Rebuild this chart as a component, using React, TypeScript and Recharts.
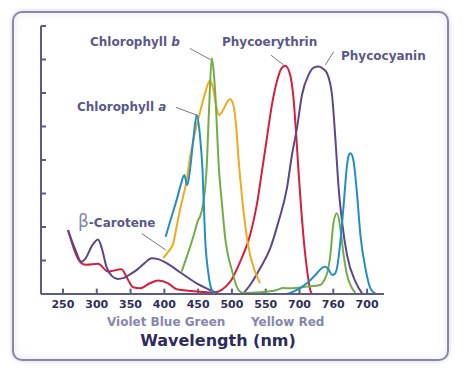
// Absorption spectra of photosynthetic pigments (Recharts).
// Axis ticks point inward, leader lines tie each label to its peak.
import { LineChart, Line, XAxis, YAxis, ReferenceLine } from "recharts";

type Pt = [number, number | null];

const TICK_VALUES = [250, 300, 350, 400, 450, 500, 550, 600, 650, 700];
const TICK_LABELS = ["250", "300", "350", "400", "450", "500", "550", "700", "760", "700"];
const Y_TICKS = [0, 1, 2, 3, 4, 5, 6, 7, 8];
const X_MIN = 217.5;
const X_MAX = 725;

// [wavelength, absorbance]; null breaks the line
const phycoerythrin: Pt[] = [
  [257.4, 1.91], [277.3, 0.92], [284.7, 0.87], [301.9, 0.9], [316.7, 0.67], [336.6, 0.74],
  [346.4, 0.42], [353.8, 0.2], [363.8, 0.17], [378.6, 0.32], [390.9, 0.4], [405.7, 0.32],
  [418.2, 0.14], [452.8, 0.07], [472.5, 0.04], [497.2, 0.36], [512.1, 0.96], [526.9, 1.76],
  [536.8, 2.66], [544.3, 3.65], [551.7, 4.65], [559.1, 5.64], [566.5, 6.34], [572.9, 6.72],
  [578.8, 6.81], [586.2, 6.54], [591.1, 5.84], [595.1, 4.75], [598.9, 3.55], [602.6, 2.51],
  [607.0, 1.46], [611.5, 0.66], [615.9, 0.12], [618.1, 0],
];

const phycocyanin: Pt[] = [
  [257.4, 1.91], [267.4, 1.37], [277.3, 0.96], [283.7, 1.07], [292.6, 1.43], [301.9, 1.63],
  [307.4, 1.37], [314.4, 0.81], [322.2, 0.54], [331.1, 0.45], [340.0, 0.48], [350.4, 0.6],
  [359.3, 0.72], [371.2, 0.93], [381.1, 1.07], [390.5, 1.04], [403.4, 0.92], [423.1, 0.65],
  [447.9, 0.32], [467.6, 0.12], [479.5, 0.01], [500, null],
  [517.0, 0.02], [526.9, 0.27], [541.7, 0.77], [556.6, 1.36], [568.9, 2.16], [581.4, 3.16],
  [588.8, 4.15], [596.2, 4.95], [603.6, 5.94], [613.4, 6.54], [620.4, 6.75], [628.2, 6.79],
  [635.2, 6.72], [640.7, 6.59], [648.1, 5.94], [653.0, 4.65], [657.9, 3.16], [662.9, 2.16],
  [670.3, 1.16], [682.7, 0.37], [692.6, 0.02],
];

const betaCarotene: Pt[] = [
  [398.3, 1.07], [405.3, 1.25], [413.2, 1.51], [418.6, 2.06], [423.1, 2.51], [433.0, 3.4],
  [437.9, 4.06], [445.3, 4.81], [452.8, 5.43], [460.2, 5.99], [467.6, 6.37], [472.0, 6.15],
  [476.5, 5.64], [480.9, 5.34], [486.9, 5.49], [492.8, 5.73], [497.2, 5.81], [501.7, 5.67],
  [506.1, 5.04], [509.9, 4.0], [514.6, 2.96], [523.9, 1.46], [534.3, 0.66], [541.7, 0.33],
];

const chlorophyllB: Pt[] = [
  [425.6, 0.67], [433.5, 1.13], [442.8, 1.71], [450.2, 2.21], [452.8, 2.31], [457.6, 2.71],
  [462.4, 3.7], [466.1, 5.49], [470.1, 7.04], [472.8, 6.69], [475.0, 6.09], [480.9, 3.7],
  [485.4, 2.66], [489.8, 1.71], [499.8, 0.72], [509.6, 0.12], [516.5, 0.03], [541.7, 0.05],
  [566.5, 0.12], [575.9, 0.18], [586.2, 0.17], [611.0, 0.22], [630.7, 0.27], [638.2, 0.48],
  [641.6, 0.67], [645.6, 1.16], [650.5, 2.16], [655.5, 2.41], [660.4, 1.96], [665.3, 1.16],
  [670.3, 0.57], [677.8, 0.17], [682.7, 0.03],
];

const chlorophyllA: Pt[] = [
  [401.9, 1.71], [408.3, 2.15], [418.2, 2.81], [424.6, 3.28], [429.5, 3.55], [433.9, 3.25],
  [437.9, 3.7], [442.8, 4.6], [447.9, 5.34], [452.8, 4.7], [456.5, 3.7], [460.2, 1.71],
  [465.1, 0.62], [470.1, 0.12], [475.0, 0.01], [530, null],
  [581.4, 0], [591.1, 0.07], [611.0, 0.32], [625.8, 0.62], [632.2, 0.76], [638.2, 0.81],
  [643.3, 0.72], [648.1, 0.57], [652.2, 0.6], [655.5, 0.78], [660.4, 1.56], [665.3, 2.66],
  [670.3, 3.85], [673.0, 4.15], [675.2, 4.2], [678.2, 4.12], [680.1, 3.95], [685.2, 2.96],
  [690.1, 1.76], [697.5, 0.77], [704.9, 0.17], [712.3, 0.01],
];

// leader lines: [x1, y1, x2, y2] in data units
const leaders: [number, number, number, number][] = [
  [437.9, 7.33, 468.6, 6.99], // Chlorophyll b
  [557.6, 7.13, 576.3, 6.84], // Phycoerythrin
  [650.5, 7.23, 638.2, 6.84], // Phycocyanin
  [417.2, 5.57, 447.9, 5.34], // Chlorophyll a
  [366.3, 1.81, 402.3, 1.31], // β-Carotene
];

const toRows = (pts: Pt[]) => pts.map(([w, a]) => ({ w, a }));

const FONT = '"DejaVu Sans", Verdana, sans-serif';
const AXIS = "#5b5a88";
const LABEL = "#5a5989";
// inward tick length, in data units (~5px each way)
const X_TICK_LEN = 0.16;
const Y_TICK_LEN = 7.4;

const series = [
  { name: "Phycoerythrin", pts: phycoerythrin, color: "#d61f3c" },
  { name: "Phycocyanin", pts: phycocyanin, color: "#5e4786" },
  { name: "β-Carotene", pts: betaCarotene, color: "#f1aa1e" },
  { name: "Chlorophyll b", pts: chlorophyllB, color: "#72ad45" },
  { name: "Chlorophyll a", pts: chlorophyllA, color: "#218fc6" },
];

function XTick({ x, y, index }: any) {
  return (
    <text
      x={x} y={y} textAnchor="middle" fontSize={11} fontWeight="bold"
      fill="#2f2e58" fontFamily={FONT}
    >
      {TICK_LABELS[index]}
    </text>
  );
}

function Label({ x, y, children, size = 12, color = LABEL }: any) {
  return (
    <div
      style={{
        position: "absolute", left: x, top: y - size / 2, lineHeight: `${size}px`,
        fontSize: size, fontWeight: "bold", color, whiteSpace: "nowrap",
      }}
    >
      {children}
    </div>
  );
}

export default function App() {
  return (
    <div
      style={{
        position: "absolute", left: 0, top: 0, width: 465, height: 376,
        background: "#fff", fontFamily: FONT, overflow: "hidden",
      }}
    >
      <div
        style={{
          position: "absolute", left: 12, top: 11, width: 437, height: 350, boxSizing: "border-box",
          border: "2px solid #8887a8", borderRadius: 10,
          boxShadow: "0 0 4px rgba(110,110,150,0.35), inset 0 0 8px rgba(160,160,210,0.25)",
        }}
      />
      <div style={{ position: "absolute", left: 0, top: 0 }}>
        <LineChart width={465} height={376} margin={{ top: 26, right: 81, bottom: 52, left: 40 }}>
          <XAxis
            dataKey="w"
            type="number"
            domain={[X_MIN, X_MAX]}
            ticks={TICK_VALUES}
            interval={0}
            allowDataOverflow
            height={30}
            tickLine={false}
            tickSize={0}
            tickMargin={14}
            tick={<XTick />}
            stroke={AXIS}
            strokeWidth={2}
          />
          <YAxis
            type="number"
            domain={[0, 8]}
            ticks={Y_TICKS}
            interval={0}
            width={1}
            tickLine={false}
            tick={false}
            stroke={AXIS}
            strokeWidth={2}
          />
          {TICK_VALUES.map((v) => (
            <ReferenceLine
              key={`xt${v}`}
              segment={[{ x: v, y: 0 }, { x: v, y: X_TICK_LEN }]}
              stroke={AXIS}
              strokeWidth={2}
            />
          ))}
          {Y_TICKS.map((t) => (
            <ReferenceLine
              key={`yt${t}`}
              segment={[{ x: X_MIN, y: t }, { x: X_MIN + Y_TICK_LEN, y: t }]}
              stroke={AXIS}
              strokeWidth={2}
            />
          ))}
          {leaders.map(([x1, y1, x2, y2], i) => (
            <ReferenceLine
              key={i}
              segment={[{ x: x1, y: y1 }, { x: x2, y: y2 }]}
              stroke="#777"
              strokeWidth={1}
            />
          ))}
          {series.map((s) => (
            <Line
              key={s.name}
              name={s.name}
              data={toRows(s.pts)}
              dataKey="a"
              type="monotone"
              stroke={s.color}
              strokeWidth={2}
              dot={false}
              isAnimationActive={false}
            />
          ))}
        </LineChart>
      </div>

      <Label x={90} y={42}>Chlorophyll <i>b</i></Label>
      <Label x={222} y={42}>Phycoerythrin</Label>
      <Label x={341} y={56}>Phycocyanin</Label>
      <Label x={77} y={107}>Chlorophyll <i>a</i></Label>
      <Label x={78} y={221}>
        <span style={{ fontSize: 17, fontWeight: "normal", color: "#8583b6" }}>β</span>-Carotene
      </Label>

      <Label x={107} y={322} color="#8786ae">Violet Blue Green</Label>
      <Label x={251} y={322} color="#8786ae">Yellow Red</Label>
      <div
        style={{
          position: "absolute", left: 0, width: 436, top: 331, textAlign: "center",
          fontSize: 16, fontWeight: "bold", color: "#2e2c5b", lineHeight: "20px",
        }}
      >
        Wavelength (nm)
      </div>
    </div>
  );
}
